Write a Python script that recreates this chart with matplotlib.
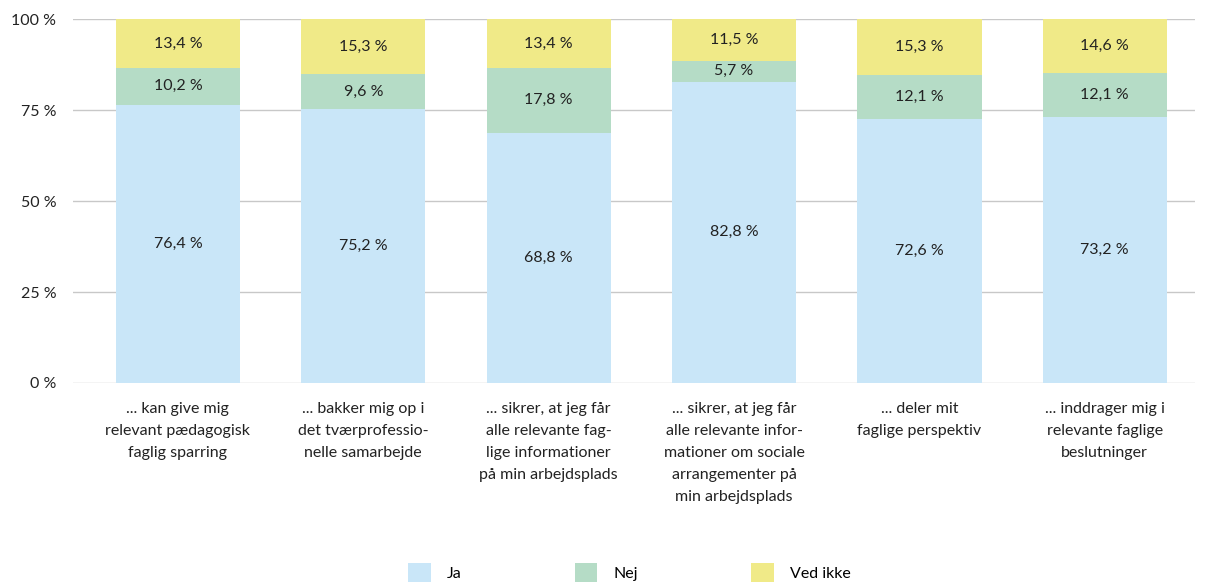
import matplotlib
matplotlib.use('Agg')
import matplotlib.pyplot as plt
import numpy as np

plt.rcParams['font.family'] = ['Lato', 'DejaVu Sans']

categories = [
    "... kan give mig\nrelevant pædagogisk\nfaglig sparring",
    "... bakker mig op i\ndet tværprofessio-\nnelle samarbejde",
    "... sikrer, at jeg får\nalle relevante fag-\nlige informationer\npå min arbejdsplads",
    "... sikrer, at jeg får\nalle relevante infor-\nmationer om sociale\narrangementer på\nmin arbejdsplads",
    "... deler mit\nfaglige perspektiv",
    "... inddrager mig i\nrelevante faglige\nbeslutninger",
]
ja = [76.4, 75.2, 68.8, 82.8, 72.6, 73.2]
nej = [10.2, 9.6, 17.8, 5.7, 12.1, 12.1]
ved_ikke = [13.4, 15.3, 13.4, 11.5, 15.3, 14.6]

series = [("Ja", ja, "#c9e6f8"), ("Nej", nej, "#b5dcc6"), ("Ved ikke", ved_ikke, "#f0ea88")]

fig = plt.figure(figsize=(12.08, 5.85), dpi=100)
ax = fig.add_axes([0.0604, 0.3453, 0.9286, 0.6222])

x = np.arange(len(categories))
bottom = np.zeros(len(categories))
for name, vals, color in series:
    vals = np.array(vals)
    ax.bar(x, vals, 0.67, bottom=bottom, color=color, label=name, zorder=2)
    for xi, b, v in zip(x, bottom, vals):
        ax.text(xi, b + v / 2, f"{v:.1f} %".replace(".", ","), ha='center', va='center',
                fontsize=11.5, color='#222222', zorder=3)
    bottom += vals

ax.set_xlim(-0.566, len(categories) - 1 + 0.485)
ax.set_ylim(0, 100)
ax.set_yticks([0, 25, 50, 75, 100])
ax.set_yticklabels([f"{t} %" for t in [0, 25, 50, 75, 100]], fontsize=11.5, color='#222222')
ax.set_xticks(x)
ax.set_xticklabels(categories, fontsize=11.5, color='#222222', linespacing=1.72, va='top')
ax.tick_params(axis='both', length=0)
ax.tick_params(axis='y', pad=12)
ax.tick_params(axis='x', pad=14)
ax.yaxis.grid(True, color='#c8c8c8', linewidth=1, zorder=0)
for s in ax.spines.values():
    s.set_visible(False)

fig.legend(loc='upper center', bbox_to_anchor=(0.521, 0.038), ncol=3, frameon=False,
           fontsize=11.5, handlelength=1.4, handleheight=1.5, handletextpad=1.0,
           columnspacing=7.1, borderaxespad=0, borderpad=0)

fig.savefig('out.png', dpi=100)
